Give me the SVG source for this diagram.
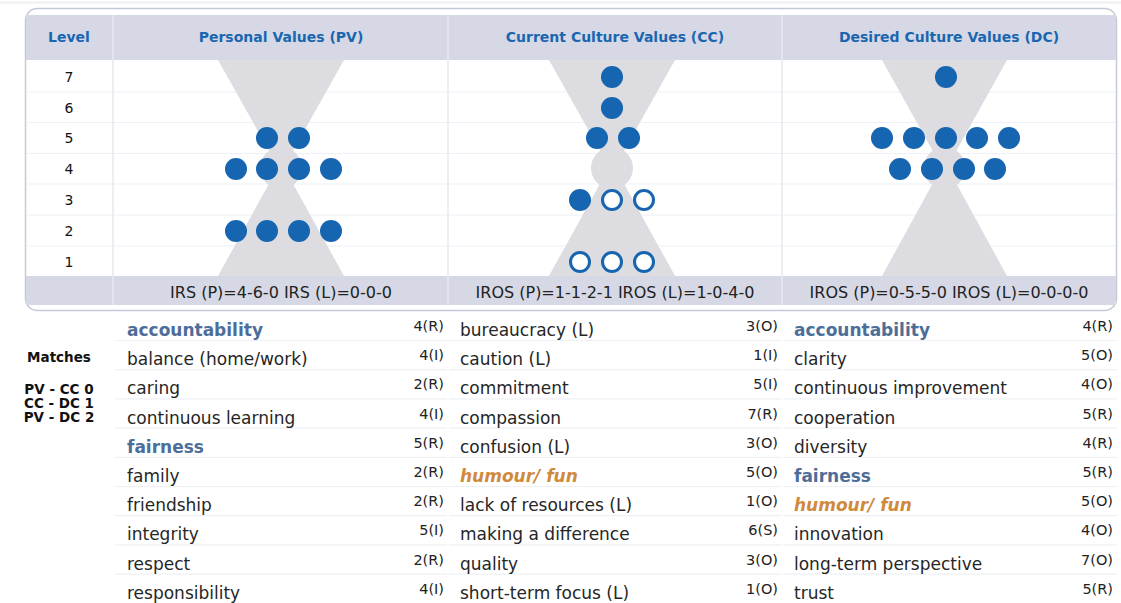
<svg xmlns="http://www.w3.org/2000/svg" width="1121" height="603" viewBox="0 0 1121 603">
<style>
.hdr{font-family:"DejaVu Sans",Verdana,sans-serif;font-weight:bold;font-size:14px;fill:#1a66b0;text-anchor:middle}
.lvl{font-family:"DejaVu Sans",Verdana,sans-serif;font-size:14px;fill:#111;text-anchor:middle}
.ftr{font-family:"DejaVu Sans",Verdana,sans-serif;font-size:16px;fill:#222;text-anchor:middle}
.v{font-family:"DejaVu Sans",Verdana,sans-serif;font-size:17px;fill:#262626}
.hb{font-weight:bold;fill:#4d6e99}
.ho{font-weight:bold;font-style:italic;fill:#d08a3c}
.n{font-family:"DejaVu Sans",Verdana,sans-serif;font-size:14.5px;fill:#222;text-anchor:end}
.m{font-family:"DejaVu Sans",Verdana,sans-serif;font-weight:bold;font-size:13.5px;fill:#111;text-anchor:middle}
.hg{fill:#dcdce1}
.d{fill:#1565b0}
.o{fill:#fff;stroke:#1565b0;stroke-width:3}
.band{fill:#d6d9e5}
.rl{stroke:#eef0f5;stroke-width:1.2}
.cl{stroke:#e6e8ef;stroke-width:1.5}
</style>
<rect width="1121" height="603" fill="#fff"/>
<line x1="0" y1="2.5" x2="1121" y2="2.5" stroke="#eeeff3" stroke-width="2"/>

<g id="chart-frame">
  <rect x="25.5" y="8.5" width="1091" height="302" rx="12" fill="#fff" stroke="#c3c9d8" stroke-width="1.5"/>
  <rect class="band" x="26" y="15" width="1090" height="45"/>
  <rect class="band" x="26" y="276" width="1090" height="29"/>
  <g>
    <line class="rl" x1="26" y1="92" x2="1116" y2="92"/>
    <line class="rl" x1="26" y1="122.5" x2="1116" y2="122.5"/>
    <line class="rl" x1="26" y1="153.5" x2="1116" y2="153.5"/>
    <line class="rl" x1="26" y1="184" x2="1116" y2="184"/>
    <line class="rl" x1="26" y1="215" x2="1116" y2="215"/>
    <line class="rl" x1="26" y1="246" x2="1116" y2="246"/>
    <line class="cl" x1="113" y1="15" x2="113" y2="305"/>
    <line class="cl" x1="448" y1="15" x2="448" y2="305"/>
    <line class="cl" x1="782" y1="15" x2="782" y2="305"/>
  </g>
</g>

<g id="header">
  <text class="hdr" x="69" y="42">Level</text>
  <text class="hdr" x="281" y="42">Personal Values (PV)</text>
  <text class="hdr" x="615" y="42">Current Culture Values (CC)</text>
  <text class="hdr" x="949" y="42">Desired Culture Values (DC)</text>
</g>

<g id="levels">
  <text class="lvl" x="69" y="82">7</text>
  <text class="lvl" x="69" y="113">6</text>
  <text class="lvl" x="69" y="143">5</text>
  <text class="lvl" x="69" y="174">4</text>
  <text class="lvl" x="69" y="205">3</text>
  <text class="lvl" x="69" y="236">2</text>
  <text class="lvl" x="69" y="267">1</text>
</g>

<g id="pv-chart">
  <polygon class="hg" points="218,60 344,60 281,172"/>
  <polygon class="hg" points="281,162 344,276 218,276"/>
  <circle class="hg" cx="281" cy="168" r="21"/>
  <circle class="d" cx="267" cy="138" r="11"/><circle class="d" cx="299" cy="138" r="11"/>
  <circle class="d" cx="236" cy="169" r="11"/><circle class="d" cx="267" cy="169" r="11"/><circle class="d" cx="299" cy="169" r="11"/><circle class="d" cx="331" cy="169" r="11"/>
  <circle class="d" cx="236" cy="231" r="11"/><circle class="d" cx="267" cy="231" r="11"/><circle class="d" cx="299" cy="231" r="11"/><circle class="d" cx="331" cy="231" r="11"/>
  <text class="ftr" x="281" y="298">IRS (P)=4-6-0 IRS (L)=0-0-0</text>
</g>

<g id="cc-chart">
  <polygon class="hg" points="549,60 675,60 612,172"/>
  <polygon class="hg" points="612,162 675,276 549,276"/>
  <circle class="hg" cx="612" cy="168" r="21"/>
  <circle class="d" cx="612" cy="77" r="11"/>
  <circle class="d" cx="612" cy="108" r="11"/>
  <circle class="d" cx="597" cy="138" r="11"/><circle class="d" cx="629" cy="138" r="11"/>
  <circle class="d" cx="580" cy="200" r="11"/><circle class="o" cx="612" cy="200" r="9.5"/><circle class="o" cx="644" cy="200" r="9.5"/>
  <circle class="o" cx="580" cy="262" r="9.5"/><circle class="o" cx="612" cy="262" r="9.5"/><circle class="o" cx="644" cy="262" r="9.5"/>
  <text class="ftr" x="615" y="298">IROS (P)=1-1-2-1 IROS (L)=1-0-4-0</text>
</g>

<g id="dc-chart">
  <polygon class="hg" points="882,60 1007,60 944.5,172"/>
  <polygon class="hg" points="944.5,162 1007,276 882,276"/>
  <circle class="hg" cx="944.5" cy="168" r="21"/>
  <circle class="d" cx="946" cy="77" r="11"/>
  <circle class="d" cx="882" cy="138" r="11"/><circle class="d" cx="914" cy="138" r="11"/><circle class="d" cx="946" cy="138" r="11"/><circle class="d" cx="977" cy="138" r="11"/><circle class="d" cx="1009" cy="138" r="11"/>
  <circle class="d" cx="900" cy="169" r="11"/><circle class="d" cx="932" cy="169" r="11"/><circle class="d" cx="964" cy="169" r="11"/><circle class="d" cx="995" cy="169" r="11"/>
  <text class="ftr" x="949" y="298">IROS (P)=0-5-5-0 IROS (L)=0-0-0-0</text>
</g>

<g id="matches">
  <text class="m" x="59" y="362">Matches</text>
  <text class="m" x="59" y="394">PV - CC 0</text>
  <text class="m" x="59" y="408">CC - DC 1</text>
  <text class="m" x="59" y="422">PV - DC 2</text>
</g>

<g id="list-lines">
  <g>
    <line class="rl" x1="115" y1="340.5" x2="447" y2="340.5"/><line class="rl" x1="115" y1="369.7" x2="447" y2="369.7"/><line class="rl" x1="115" y1="398.9" x2="447" y2="398.9"/><line class="rl" x1="115" y1="428.1" x2="447" y2="428.1"/><line class="rl" x1="115" y1="457.3" x2="447" y2="457.3"/><line class="rl" x1="115" y1="486.5" x2="447" y2="486.5"/><line class="rl" x1="115" y1="515.7" x2="447" y2="515.7"/><line class="rl" x1="115" y1="544.9" x2="447" y2="544.9"/><line class="rl" x1="115" y1="574.1" x2="447" y2="574.1"/>
  </g>
  <g>
    <line class="rl" x1="449" y1="340.5" x2="781" y2="340.5"/><line class="rl" x1="449" y1="369.7" x2="781" y2="369.7"/><line class="rl" x1="449" y1="398.9" x2="781" y2="398.9"/><line class="rl" x1="449" y1="428.1" x2="781" y2="428.1"/><line class="rl" x1="449" y1="457.3" x2="781" y2="457.3"/><line class="rl" x1="449" y1="486.5" x2="781" y2="486.5"/><line class="rl" x1="449" y1="515.7" x2="781" y2="515.7"/><line class="rl" x1="449" y1="544.9" x2="781" y2="544.9"/><line class="rl" x1="449" y1="574.1" x2="781" y2="574.1"/>
  </g>
  <g>
    <line class="rl" x1="783" y1="340.5" x2="1117" y2="340.5"/><line class="rl" x1="783" y1="369.7" x2="1117" y2="369.7"/><line class="rl" x1="783" y1="398.9" x2="1117" y2="398.9"/><line class="rl" x1="783" y1="428.1" x2="1117" y2="428.1"/><line class="rl" x1="783" y1="457.3" x2="1117" y2="457.3"/><line class="rl" x1="783" y1="486.5" x2="1117" y2="486.5"/><line class="rl" x1="783" y1="515.7" x2="1117" y2="515.7"/><line class="rl" x1="783" y1="544.9" x2="1117" y2="544.9"/><line class="rl" x1="783" y1="574.1" x2="1117" y2="574.1"/>
  </g>
</g>

<g id="pv-list">
  <text class="v hb" x="127" y="336">accountability</text><text class="n" x="444" y="331">4(R)</text>
  <text class="v" x="127" y="365.2">balance (home/work)</text><text class="n" x="444" y="360.2">4(I)</text>
  <text class="v" x="127" y="394.4">caring</text><text class="n" x="444" y="389.4">2(R)</text>
  <text class="v" x="127" y="423.6">continuous learning</text><text class="n" x="444" y="418.6">4(I)</text>
  <text class="v hb" x="127" y="452.8">fairness</text><text class="n" x="444" y="447.8">5(R)</text>
  <text class="v" x="127" y="482">family</text><text class="n" x="444" y="477">2(R)</text>
  <text class="v" x="127" y="511.2">friendship</text><text class="n" x="444" y="506.2">2(R)</text>
  <text class="v" x="127" y="540.4">integrity</text><text class="n" x="444" y="535.4">5(I)</text>
  <text class="v" x="127" y="569.6">respect</text><text class="n" x="444" y="564.6">2(R)</text>
  <text class="v" x="127" y="598.8">responsibility</text><text class="n" x="444" y="593.8">4(I)</text>
</g>

<g id="cc-list">
  <text class="v" x="460" y="336">bureaucracy (L)</text><text class="n" x="778" y="331">3(O)</text>
  <text class="v" x="460" y="365.2">caution (L)</text><text class="n" x="778" y="360.2">1(I)</text>
  <text class="v" x="460" y="394.4">commitment</text><text class="n" x="778" y="389.4">5(I)</text>
  <text class="v" x="460" y="423.6">compassion</text><text class="n" x="778" y="418.6">7(R)</text>
  <text class="v" x="460" y="452.8">confusion (L)</text><text class="n" x="778" y="447.8">3(O)</text>
  <text class="v ho" x="460" y="482">humour/ fun</text><text class="n" x="778" y="477">5(O)</text>
  <text class="v" x="460" y="511.2">lack of resources (L)</text><text class="n" x="778" y="506.2">1(O)</text>
  <text class="v" x="460" y="540.4">making a difference</text><text class="n" x="778" y="535.4">6(S)</text>
  <text class="v" x="460" y="569.6">quality</text><text class="n" x="778" y="564.6">3(O)</text>
  <text class="v" x="460" y="598.8">short-term focus (L)</text><text class="n" x="778" y="593.8">1(O)</text>
</g>

<g id="dc-list">
  <text class="v hb" x="794" y="336">accountability</text><text class="n" x="1113" y="331">4(R)</text>
  <text class="v" x="794" y="365.2">clarity</text><text class="n" x="1113" y="360.2">5(O)</text>
  <text class="v" x="794" y="394.4">continuous improvement</text><text class="n" x="1113" y="389.4">4(O)</text>
  <text class="v" x="794" y="423.6">cooperation</text><text class="n" x="1113" y="418.6">5(R)</text>
  <text class="v" x="794" y="452.8">diversity</text><text class="n" x="1113" y="447.8">4(R)</text>
  <text class="v hb" x="794" y="482">fairness</text><text class="n" x="1113" y="477">5(R)</text>
  <text class="v ho" x="794" y="511.2">humour/ fun</text><text class="n" x="1113" y="506.2">5(O)</text>
  <text class="v" x="794" y="540.4">innovation</text><text class="n" x="1113" y="535.4">4(O)</text>
  <text class="v" x="794" y="569.6">long-term perspective</text><text class="n" x="1113" y="564.6">7(O)</text>
  <text class="v" x="794" y="598.8">trust</text><text class="n" x="1113" y="593.8">5(R)</text>
</g>
</svg>
